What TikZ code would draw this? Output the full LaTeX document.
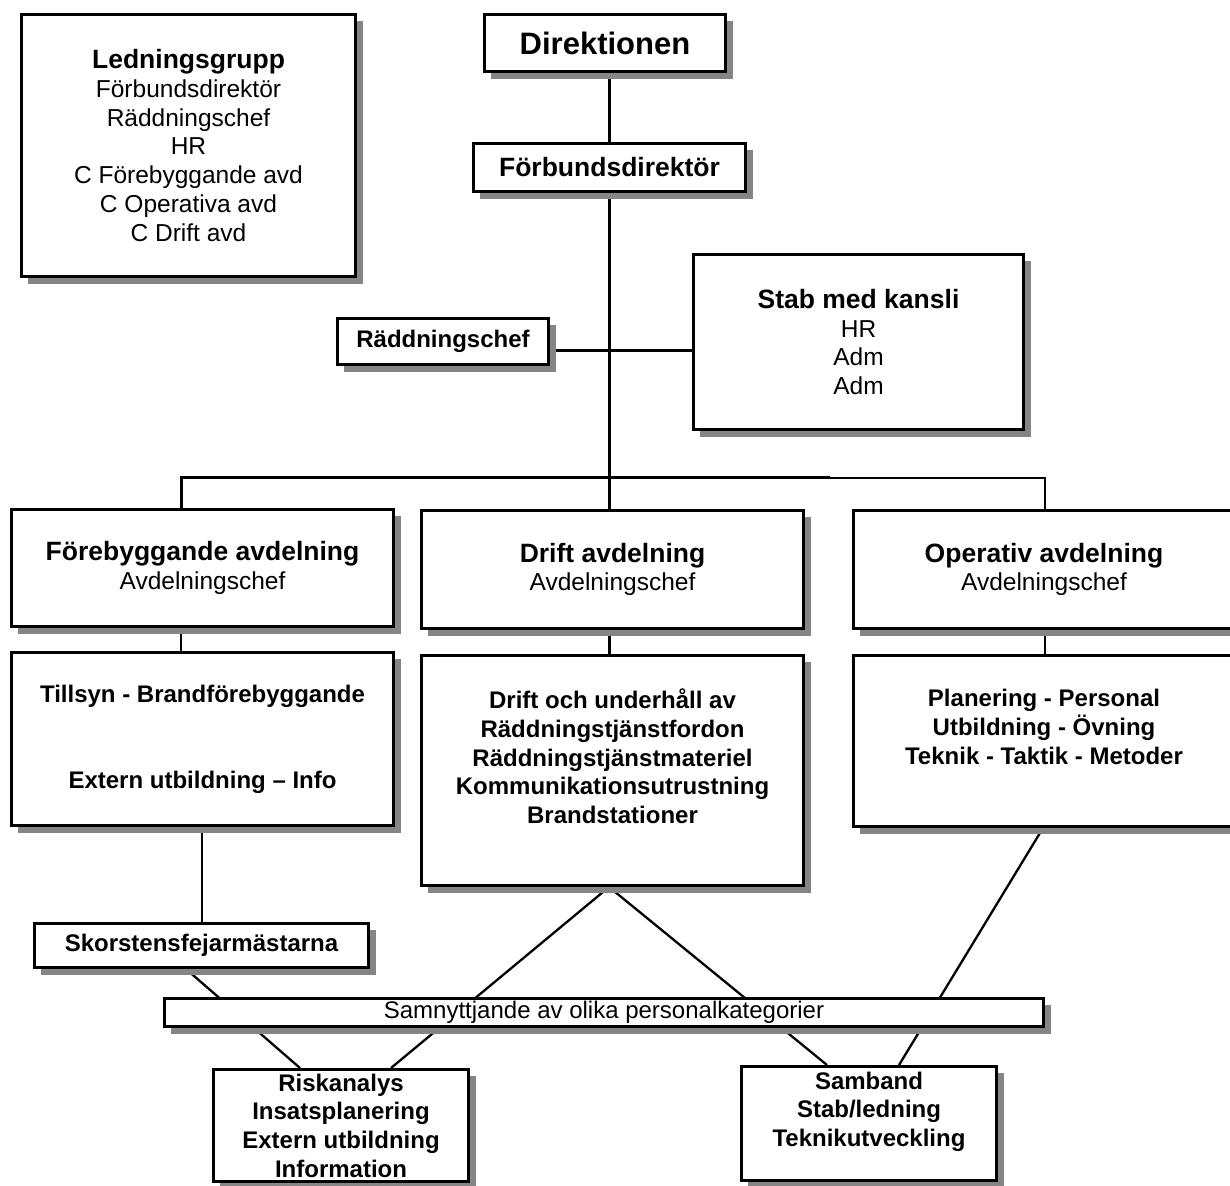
\documentclass[tikz,border=0pt]{standalone}
\usepackage{fontspec}
\setmainfont{Liberation Sans}
\usetikzlibrary{shadows,backgrounds}
\newcommand\hd[1]{{\fontsize{26.5}{30}\selectfont\bfseries #1}}
\newcommand\bx[7][]{\node[box,#1,minimum width={#5-#3-2.6},minimum height={#6-#4-2.6}] (#2) at ({(#3+#5)/2},{(#4+#6)/2}) {#7};}
\begin{document}
\begin{tikzpicture}[x=1pt,y=-1pt,
  box/.style={draw=black, line width=2.6pt, fill=white, inner sep=0pt, align=center,
    font=\fontsize{24.5}{28.7}\selectfont,
    drop shadow={shadow xshift=7pt, shadow yshift=-7pt, fill=black!48, opacity=1}},
  bodyb/.style={font=\fontsize{24}{28.7}\selectfont\bfseries},
  con/.style={line width=2.3pt, black},
  conthick/.style={line width=3pt, black}]
\useasboundingbox (0,0) rectangle (1230,1185);
\clip (0,0) rectangle (1230,1185);
% boxes
\bx{led}{20}{13}{357}{278}{\hd{Ledningsgrupp}\\Förbundsdirektör\\Räddningschef\\HR\\C Förebyggande avd\\C Operativa avd\\C Drift avd}
\bx[font=\fontsize{31}{34}\selectfont\bfseries]{dir}{483}{13}{727}{73}{Direktionen}
\bx[font=\fontsize{26.5}{30}\selectfont\bfseries]{fd}{472}{142}{747}{193}{Förbundsdirektör}
\bx[bodyb]{rc}{336}{317}{550}{366}{Räddningschef}
\bx{stab}{692}{253}{1025}{431}{\hd{Stab med kansli}\\HR\\Adm\\Adm}
\bx{fore}{10}{508}{395}{628}{\hd{Förebyggande avdelning}\\Avdelningschef}
\bx{drift}{420}{509}{805}{630}{\hd{Drift avdelning}\\Avdelningschef}
\bx{oper}{852}{509}{1236}{630}{\hd{Operativ avdelning}\\Avdelningschef}
\bx[bodyb]{till}{10}{651}{395}{827}{Tillsyn - Brandförebyggande\\\mbox{}\\\mbox{}\\Extern utbildning – Info}
\bx[bodyb]{drifttwo}{420}{654}{805}{887}{Drift och underhåll av\\Räddningstjänstfordon\\Räddningstjänstmateriel\\Kommunikationsutrustning\\Brandstationer\\\mbox{}}
\bx[bodyb]{opertwo}{852}{654}{1236}{828}{Planering - Personal\\Utbildning - Övning\\Teknik - Taktik - Metoder\\\mbox{}}
\bx[bodyb]{skor}{33}{922}{370}{969}{Skorstensfejarmästarna}
\bx[font=\fontsize{24}{28}\selectfont]{samn}{163}{997}{1045}{1028}{\raisebox{-1pt}{Samnyttjande av olika personalkategorier}}
\bx[bodyb]{risk}{212}{1068}{470}{1183}{Riskanalys\\Insatsplanering\\Extern utbildning\\Information}
\bx[bodyb]{samb}{740}{1065}{998}{1182}{Samband\\Stab/ledning\\Teknikutveckling\\\mbox{}}
% connectors
\begin{scope}[on background layer]
\fill[white] (0,0) rectangle (1230,1185);
\coordinate (busL) at (181,477);
\coordinate (busM) at (830,477);
\coordinate (busR) at (1045,478);
\draw[con] (fd.north |- dir.south) -- (fd.north);
\draw[con] (fd.south) -- (fd.south |- drift.north);
\draw[conthick] (fore.north -| busL) -- (busL) -- (busM);
\draw[con] (busM |- busR) -- (busR) -- (oper.north -| busR);
\draw[conthick] (rc.east |- 0,350) -- (stab.west |- 0,350);
\draw[con] (fore.south -| busL) -- (till.north -| busL);
\draw[con] (drifttwo.north -| fd.south) -- (drift.south -| fd.south);
\draw[con] (oper.south -| busR) -- (opertwo.north -| busR);
\draw[con] (till.south -| 202,0) -- (skor.north -| 202,0);
\draw[con] (skor.south -| 186,0) -- (risk.north -| 300,0);
\draw[con] (drifttwo.south -| 609,0) -- (risk.north -| 391,0);
\draw[con] (drifttwo.south -| 609,0) -- (samb.north -| 827,0);
\draw[con] (opertwo.south -| 1043,0) -- (samb.north -| 899,0);
\end{scope}
\end{tikzpicture}
\end{document}
